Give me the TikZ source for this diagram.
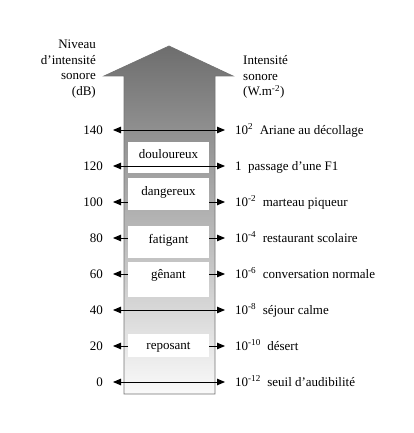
\documentclass[tikz,border=0pt]{standalone}
\usepackage{fontspec}
\setmainfont{Liberation Serif}
\usetikzlibrary{arrows.meta}

\begin{document}
\begin{tikzpicture}[x=1pt,y=-1pt,
  every node/.style={font=\fontsize{13}{15.5}\selectfont,inner sep=0pt},
  level/.style={text height=10pt,text depth=2pt},
  scale arrow/.style={{Triangle[length=8pt,width=6.5pt]}-{Triangle[length=8pt,width=6.5pt]},line width=0.9pt,shorten <=10pt,shorten >=10pt},
  zone/.style={fill=white}]
  \useasboundingbox (0,0) rectangle (414,433);
  % big arrow
  \shade[top color=black!57,middle color=black!24,bottom color=black!2]
    (124,394) -- (124,76) -- (104,76) -- (169,46) -- (233,76) -- (215,76) -- (215,394) -- cycle;
  \draw[black!55,line width=0.7pt]
    (124,394) -- (124,76) -- (104,76) -- (169,46) -- (233,76) -- (215,76) -- (215,394) -- cycle;
  \fill[zone] (128,142) rectangle (209,173);
  % headers
  \node[align=right,anchor=east] (niveau) at (96,69) {Niveau\\d’intensité\\sonore\\(dB)};
  \node[align=left,anchor=west] (intensite) at (243,77) {Intensité\\sonore\\(W.m\textsuperscript{-2})};
  % scale
  \foreach \db/\y/\val/\what in {140/130/10\textsuperscript{2}/Ariane au décollage,
      120/166/1/passage d’une F1,
      100/202/10\textsuperscript{-2}/marteau piqueur,
      80/238/10\textsuperscript{-4}/restaurant scolaire,
      60/274/10\textsuperscript{-6}/conversation normale,
      40/310/10\textsuperscript{-8}/séjour calme,
      20/346/10\textsuperscript{-10}/désert,
      0/382/10\textsuperscript{-12}/seuil d’audibilité}{
    \node[level,anchor=east] (db\db) at (103,\y) {\db};
    \node[level,anchor=west] (w\db) at (235,\y) {\val\ \ \what};
    \draw[scale arrow] (db\db.east) -- (w\db.west);
  }
  % zones
  \fill[zone] (128,178) rectangle (209,210);
  \fill[zone] (128,226) rectangle (209,258);
  \fill[zone] (128,262) rectangle (209,297);
  \fill[zone] (128,334) rectangle (209,357);
  \node (doul) at (168.5,154) {douloureux};
  \node (dang) at (168.5,192) {dangereux};
  \node (fati) at (168.5,240) {fatigant};
  \node (gena) at (168.5,275) {gênant};
  \node (repo) at (168.5,347) {reposant};
\end{tikzpicture}
\end{document}
